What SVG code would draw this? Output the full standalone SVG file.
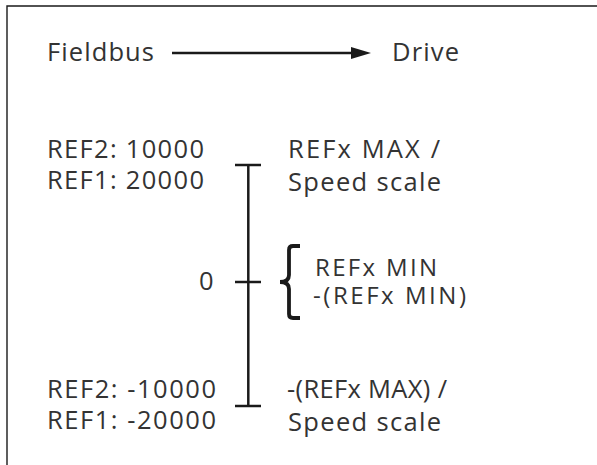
<svg xmlns="http://www.w3.org/2000/svg" width="597" height="465" viewBox="0 0 597 465">
<style>
text{font-family:"Open Sans","DejaVu Sans",sans-serif;font-size:25.5px;fill:#333}
.sm{font-size:24px}
.ax{stroke:#1a1a1a;stroke-width:2.5;fill:none}
</style>
<rect width="597" height="465" fill="#fff"/>
<path d="M7,465 V6 H597" stroke="#1a1a1a" stroke-width="1.4" fill="none"/>
<g id="fieldbus"><text x="47" y="61" textLength="107" lengthAdjust="spacing">Fieldbus</text></g>
<g id="drive"><text x="392" y="61" textLength="67" lengthAdjust="spacing">Drive</text></g>
<g id="connectors">
<line x1="172" y1="53" x2="352" y2="53" stroke="#1a1a1a" stroke-width="2.5"/>
<path d="M351,47 L371,53 L351,59 Z" fill="#1a1a1a"/>
</g>
<g id="axis">
<line class="ax" x1="248.3" y1="165" x2="248.3" y2="406"/>
<line class="ax" x1="235" y1="165" x2="261" y2="165"/>
<line class="ax" x1="235" y1="282" x2="261" y2="282"/>
<line class="ax" x1="235" y1="406" x2="261" y2="406"/>
<path d="M300,246 H293 Q289,246 289,250 V275 Q289,282 280,282 Q289,282 289,289 V314 Q289,318 293,318 H300" stroke="#1a1a1a" stroke-width="3.8" fill="none"/>
</g>
<g id="top-left"><text x="47" y="158" textLength="157" lengthAdjust="spacing">REF2: 10000</text><text x="47" y="189" textLength="157" lengthAdjust="spacing">REF1: 20000</text></g>
<g id="top-right"><text x="288" y="158" textLength="152" lengthAdjust="spacing">REFx MAX /</text><text x="288" y="191" textLength="153" lengthAdjust="spacing">Speed scale</text></g>
<g id="zero"><text x="199" y="290">0</text></g>
<g id="min"><text class="sm" x="315" y="276" textLength="122" lengthAdjust="spacing">REFx MIN</text><text class="sm" x="313" y="304" textLength="153" lengthAdjust="spacing">-(REFx MIN)</text></g>
<g id="bottom-left"><text x="47" y="398" textLength="169" lengthAdjust="spacing">REF2: -10000</text><text x="47" y="429" textLength="169" lengthAdjust="spacing">REF1: -20000</text></g>
<g id="bottom-right"><text x="287" y="398" textLength="160" lengthAdjust="spacing">-(REFx MAX) /</text><text x="288" y="431" textLength="153" lengthAdjust="spacing">Speed scale</text></g>
</svg>
